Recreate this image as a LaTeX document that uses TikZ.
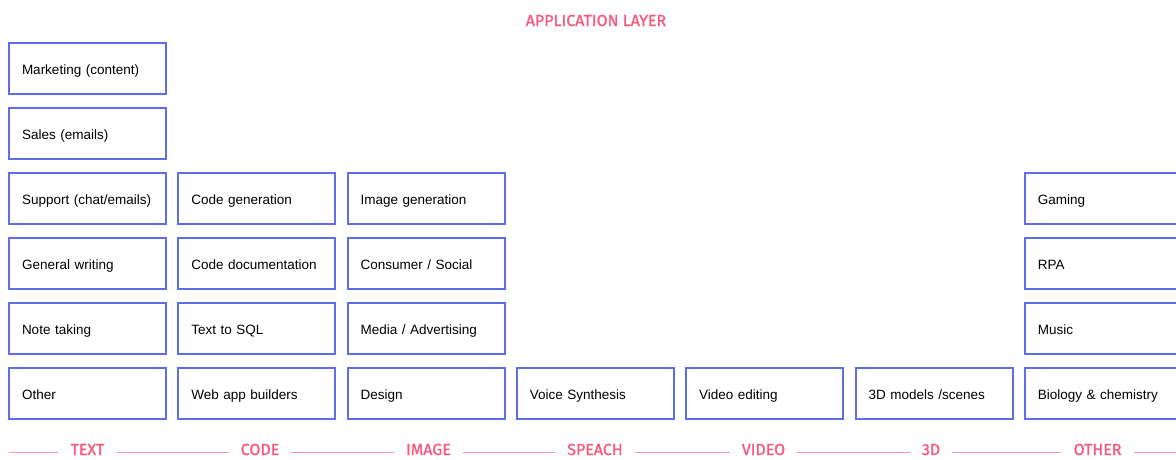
\documentclass[tikz,border=0pt]{standalone}
\usepackage{fontspec}
\setmainfont{Liberation Sans}
\newfontfamily\layerfont[FakeBold=1.2]{Fira Sans}
\usetikzlibrary{positioning}
\definecolor{boxblue}{RGB}{94,110,232}
\definecolor{layerpink}{RGB}{245,90,128}
\definecolor{rulepink}{RGB}{252,150,178}

\begin{document}
\begin{tikzpicture}[
                x=1pt, y=-1pt,
                appbox/.style={draw=boxblue, line width=2pt, fill=white,
                    minimum width=157pt, minimum height=51pt,
                    text width=131pt, align=left, inner sep=0pt,
                    text height=12pt, text depth=0pt,
                    font=\fontsize{13.5}{15}\selectfont},
                layerlabel/.style={text=layerpink, inner xsep=12pt, inner ysep=1pt,
                    text height=12pt, text depth=0pt,
                    font=\layerfont\fontsize{16}{18}\selectfont},
                layerrule/.style={draw=rulepink, line width=1.6pt}
            ]
            \useasboundingbox (0,0) rectangle (1176,459);
            \node[layerlabel] (title) at (596,20) {APPLICATION LAYER};
            % one column of boxes per category, listed bottom up
            \foreach \col/\lx/\cat/\items in {
                0/87.5/TEXT/{Other,Note taking,General writing,Support (chat/emails),Sales (emails),Marketing (content)},
                1/260/CODE/{Web app builders,Text to SQL,Code documentation,Code generation},
                2/428.5/IMAGE/{Design,Media / Advertising,Consumer / Social,Image generation},
                3/595/SPEACH/{Voice Synthesis},
                4/763.5/VIDEO/{Video editing},
                5/931/3D/{3D models /scenes},
                6/1097.6/OTHER/{Biology \& chemistry,Music,RPA,Gaming}} {
                \pgfmathsetmacro\cx{87.5+169.3*\col}
                \foreach \item [count=\row from 0] in \items {
                    \node[appbox] (box-\col-\row) at (\cx,393.5-65*\row) {\item};
                }
                % category name on a rule split into 168pt segments
                \node[layerlabel] (cat-\col) at (\lx,449) {\cat};
                \coordinate (rule-l-\col) at (9+168*\col,452.5);
                \coordinate (rule-r-\col) at (177+168*\col,452.5);
                \draw[layerrule] (rule-l-\col) -- (rule-l-\col -| cat-\col.west);
                \draw[layerrule] (rule-r-\col -| cat-\col.east) -- (rule-r-\col);
            }
        \end{tikzpicture}
\end{document}
